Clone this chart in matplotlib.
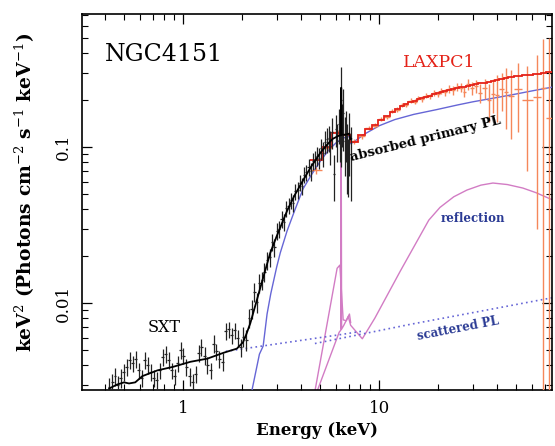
import numpy as np
import matplotlib.pyplot as plt
from matplotlib.ticker import FuncFormatter, NullFormatter

plt.rcParams['font.family'] = ['DejaVu Serif']
plt.rcParams['mathtext.fontset'] = 'dejavuserif'

# ---------------- SXT data (keV, keV^2 ph/cm2/s/keV) ----------------
sxt_e = [0.42, 0.435, 0.45, 0.465, 0.48, 0.50, 0.515, 0.535, 0.555, 0.575,
         0.595, 0.615, 0.64, 0.66, 0.685, 0.71, 0.735, 0.76, 0.79, 0.815,
         0.845, 0.875, 0.905, 0.94, 0.97, 1.0, 1.04, 1.08, 1.12, 1.16,
         1.2, 1.24, 1.29, 1.33, 1.38, 1.43, 1.48, 1.53, 1.59, 1.65,
         1.71, 1.77, 1.83, 1.9, 1.97,
         2.03, 2.10, 2.17, 2.24, 2.31, 2.38, 2.45, 2.52, 2.60, 2.68,
         2.76, 2.84, 2.92, 3.00, 3.09, 3.18, 3.27, 3.36, 3.45, 3.54,
         3.64, 3.74, 3.84, 3.94, 4.04, 4.14, 4.25, 4.36, 4.47, 4.58,
         4.69, 4.80, 4.92, 5.04, 5.16, 5.28, 5.40, 5.52, 5.64, 5.76,
         5.88, 6.00, 6.12, 6.24, 6.33, 6.40, 6.48, 6.57, 6.66, 6.75,
         6.85, 6.95, 7.05, 7.15]
sxt_y = [0.0029, 0.0031, 0.0034, 0.0030, 0.0033, 0.0036, 0.0039, 0.0043, 0.0041, 0.0044,
         0.0037, 0.0033, 0.0043, 0.0040, 0.0036, 0.0033, 0.0032, 0.0037, 0.0045, 0.0047,
         0.0043, 0.0037, 0.0034, 0.0041, 0.0050, 0.0046, 0.0039, 0.0034, 0.0031, 0.0035,
         0.0048, 0.0052, 0.0046, 0.0040, 0.0037, 0.0055, 0.0049, 0.0044, 0.0042, 0.0066,
         0.0068, 0.0062, 0.0067, 0.0060, 0.0052,
         0.0061, 0.0058, 0.0080, 0.0092, 0.0118, 0.0101, 0.0135, 0.0140, 0.0158, 0.0188,
         0.0196, 0.0245, 0.0228, 0.0290, 0.0300, 0.0345, 0.0330, 0.0405, 0.0420, 0.0455,
         0.0440, 0.0520, 0.0530, 0.0590, 0.0560, 0.0665, 0.0690, 0.0745, 0.0700, 0.0810,
         0.0830, 0.0880, 0.0850, 0.0980, 0.0910, 0.1080, 0.1120, 0.1150, 0.1020, 0.1250,
         0.0670, 0.1300, 0.1100, 0.1400, 0.1150, 0.2000, 0.1450, 0.1650, 0.1100, 0.1250,
         0.0950, 0.0800, 0.1150, 0.0900]
sxt_err = [0.0004, 0.0004, 0.00045, 0.0004, 0.00045, 0.00045, 0.0005, 0.00055, 0.0005, 0.00055,
           0.00045, 0.0004, 0.00055, 0.0005, 0.00045, 0.0004, 0.0004, 0.00045, 0.00055, 0.0006,
           0.00055, 0.00045, 0.0004, 0.0005, 0.0006, 0.00055, 0.0005, 0.00045, 0.0004, 0.00045,
           0.0006, 0.00065, 0.0006, 0.0005, 0.00045, 0.0007, 0.0006, 0.00055, 0.00055, 0.0008,
           0.0008, 0.00075, 0.0008, 0.00075, 0.0007,
           0.0009, 0.0009, 0.0011, 0.0013, 0.0016, 0.0015, 0.0019, 0.0019, 0.0022, 0.0025,
           0.0026, 0.0031, 0.0030, 0.0036, 0.0037, 0.0042, 0.0042, 0.0049, 0.0050, 0.0055,
           0.0055, 0.0062, 0.0064, 0.0070, 0.0070, 0.0080, 0.0082, 0.0090, 0.0090, 0.0100,
           0.0110, 0.0120, 0.0130, 0.0150, 0.0160, 0.0180, 0.0200, 0.0220, 0.0250, 0.0280,
           0.0220, 0.0300, 0.0300, 0.0350, 0.0350, 0.1250, 0.0450, 0.0700, 0.0450, 0.0450,
           0.0450, 0.0320, 0.0500, 0.0450]

# SXT total model
sxt_mod_e = [0.42, 0.46, 0.50, 0.53, 0.57, 0.62, 0.74, 0.89, 1.09, 1.33, 1.61, 1.88,
             2.02, 2.1, 2.2, 2.38, 2.55, 2.78, 3.0, 3.39, 3.7, 4.1, 4.5, 5.0, 5.4,
             5.8, 6.2, 6.36, 6.4, 6.44, 6.7, 7.05, 7.12, 7.2]
sxt_mod_y = [0.00283, 0.0030, 0.0031, 0.00305, 0.0031, 0.0034, 0.0037, 0.0039, 0.0042,
             0.0044, 0.0048, 0.0051, 0.0056, 0.0063, 0.0074, 0.0105, 0.0143, 0.0209,
             0.0268, 0.039, 0.049, 0.0615, 0.075, 0.0915, 0.103, 0.113, 0.118, 0.119,
             0.24, 0.12, 0.12, 0.122, 0.112, 0.113]

# ---------------- LAXPC1 data ----------------
lx_edges = [4.45, 5.1, 5.75, 6.55, 7.1, 7.8, 8.5, 9.2, 9.9, 10.6, 11.3, 12.0, 12.7,
            13.4, 14.1, 14.8, 15.5, 16.2, 17.0, 17.8, 18.6, 19.4, 20.3, 21.2, 22.2,
            23.2, 24.3, 25.4, 26.6, 27.8, 29.1, 30.5, 32.0, 33.6, 35.3, 37.1, 39.0,
            41.0, 43.2, 45.6, 48.6, 53.5, 60.5, 66.5, 71.0, 76.0]
lx_model = [0.083, 0.100, 0.123, 0.120, 0.107, 0.119, 0.130, 0.139, 0.149, 0.158,
            0.167, 0.176, 0.183, 0.189, 0.194, 0.198, 0.202, 0.206, 0.210, 0.214,
            0.218, 0.221, 0.224, 0.228, 0.231, 0.235, 0.238, 0.241, 0.244, 0.247,
            0.250, 0.253, 0.256, 0.259, 0.262, 0.266, 0.270, 0.274, 0.277, 0.281,
            0.285, 0.290, 0.295, 0.298, 0.301]
lx_y = [0.071, 0.098, 0.124, 0.122, 0.109, 0.117, 0.133, 0.137, 0.152, 0.156,
        0.171, 0.174, 0.187, 0.186, 0.198, 0.195, 0.206, 0.203, 0.214, 0.211,
        0.223, 0.218, 0.229, 0.224, 0.236, 0.231, 0.244, 0.240, 0.226, 0.252,
        0.238, 0.246, 0.222, 0.238, 0.200, 0.220, 0.217, 0.235, 0.226, 0.212,
        0.234, 0.200, 0.210, 0.240, 0.153]
lx_err = [0.004, 0.004, 0.004, 0.004, 0.004, 0.004, 0.004, 0.005, 0.005, 0.005,
          0.005, 0.006, 0.006, 0.006, 0.007, 0.007, 0.007, 0.008, 0.008, 0.009,
          0.009, 0.010, 0.011, 0.012, 0.013, 0.014, 0.015, 0.016, 0.018, 0.020,
          0.022, 0.025, 0.030, 0.035, 0.055, 0.055, 0.072, 0.065, 0.095, 0.100,
          0.110, 0.130, 0.180, 0.250, 0.350]

# ---------------- model components ----------------
pl_e = [2.25, 2.45, 2.56, 2.68, 2.8, 3.0, 3.13, 3.39, 3.7, 4.09, 4.5, 5.0, 5.5, 6.0,
        6.5, 7.1, 7.15, 7.5, 8.5, 10, 12, 15, 19.7, 25, 30, 40, 50, 60, 76]
pl_y = [0.0028, 0.0047, 0.0053, 0.0085, 0.0115, 0.017, 0.021, 0.029, 0.039, 0.054,
        0.066, 0.081, 0.095, 0.106, 0.114, 0.117, 0.105, 0.109, 0.122, 0.137, 0.150,
        0.162, 0.174, 0.186, 0.195, 0.208, 0.219, 0.229, 0.242]

scat_sxt_e = [1.65, 3.1, 6.5, 8.2]
scat_sxt_y = [0.0049, 0.0055, 0.0063, 0.0066]
scat_lx_e = [4.7, 14.4, 76]
scat_lx_y = [0.0055, 0.0073, 0.0108]

refl_sxt_e = [4.85, 6.25, 6.37, 6.4, 6.43, 6.6, 6.95, 7.05, 7.15]
refl_sxt_y = [0.00277, 0.0065, 0.0067, 0.12, 0.0068, 0.0072, 0.0082, 0.0085, 0.0075]
refl_lx_e = [4.72, 6.1, 6.3, 6.55, 6.8, 6.95, 7.15, 8.2, 9.5, 12.8, 17.9, 20.4, 24,
             28, 33, 38, 45, 54, 63, 76]
refl_lx_y = [0.0028, 0.0167, 0.0175, 0.0078, 0.0077, 0.0082, 0.0072, 0.0059, 0.0080,
             0.016, 0.034, 0.041, 0.048, 0.053, 0.057, 0.0588, 0.0575, 0.0546, 0.051,
             0.046]


def half_widths(e):
    # bin half widths from the neighbouring channel energies
    e = np.asarray(e)
    mid = np.sqrt(e[:-1] * e[1:])
    lo = np.concatenate([[e[0] ** 2 / mid[0]], mid])
    hi = np.concatenate([mid, [e[-1] ** 2 / mid[-1]]])
    return [e - lo, hi - e]


fig = plt.figure(figsize=(5.55, 4.46), dpi=100)
ax = fig.add_axes([0.1477, 0.1256, 0.8468, 0.843])

blue = '#6666d6'
pink = '#d27cc4'
orange = '#f5875a'
red = '#e42218'
textblue = '#2a3a94'

ax.plot(refl_lx_e, refl_lx_y, color=pink, lw=1.0, zorder=2)
ax.plot(refl_sxt_e, refl_sxt_y, color=pink, lw=1.0, zorder=2)
ax.plot(scat_sxt_e, scat_sxt_y, color=blue, lw=1.2, ls=(0, (1, 2)), zorder=2)
ax.plot(scat_lx_e, scat_lx_y, color=blue, lw=1.2, ls=(0, (1, 2)), zorder=2)
ax.plot(pl_e, pl_y, color=blue, lw=1.0, zorder=3)

# LAXPC1 data + model
lx_edges_a = np.array(lx_edges)
lx_c = np.sqrt(lx_edges_a[:-1] * lx_edges_a[1:])
ax.errorbar(lx_c, lx_y, yerr=lx_err,
            xerr=[lx_c - lx_edges_a[:-1], lx_edges_a[1:] - lx_c],
            fmt='none', ecolor=orange, elinewidth=1.0, capsize=0, zorder=4)
ax.stairs(lx_model, lx_edges, baseline=None, color=red, lw=1.3, zorder=5)

# SXT data + model
ax.errorbar(sxt_e, sxt_y, yerr=sxt_err, xerr=half_widths(sxt_e),
            fmt='none', ecolor='#222222', elinewidth=0.9, capsize=0, zorder=6)
ax.plot(sxt_mod_e, sxt_mod_y, color='black', lw=1.3, zorder=7)

ax.set_xscale('log')
ax.set_yscale('log')
ax.set_xlim(0.305, 76)
ax.set_ylim(0.00277, 0.713)

fmt = FuncFormatter(lambda v, p: '%g' % v)
ax.xaxis.set_major_formatter(fmt)
ax.yaxis.set_major_formatter(fmt)
ax.xaxis.set_minor_formatter(NullFormatter())
ax.yaxis.set_minor_formatter(NullFormatter())

ax.tick_params(which='both', direction='in', top=True, right=True)
ax.tick_params(which='major', length=7.5, width=0.9)
ax.tick_params(which='minor', length=4, width=0.8)
ax.tick_params(axis='x', pad=7, labelsize=12)
ax.tick_params(axis='y', pad=7, labelsize=12, labelrotation=90)
for lab in ax.get_yticklabels():
    lab.set_verticalalignment('center')
for s in ax.spines.values():
    s.set_linewidth(1.2)

ax.set_xlabel('Energy (keV)', fontsize=12, fontweight='bold', labelpad=4)
ax.set_ylabel(r'keV$^2$ (Photons cm$^{-2}$ s$^{-1}$ keV$^{-1}$)', fontsize=13.5,
              fontweight='bold')
ax.yaxis.set_label_coords(-0.096, 0.527)

# annotations
ax.text(0.049, 0.891, 'NGC4151', transform=ax.transAxes, fontsize=17,
        ha='left', va='center')
ax.text(0.683, 0.87, 'LAXPC1', transform=ax.transAxes, fontsize=12.5,
        color=red, ha='left', va='center')
ax.text(0.174, 0.165, 'SXT', transform=ax.transAxes, fontsize=11.5,
        ha='center', va='center')
ax.text(0.730, 0.668, 'absorbed primary PL', transform=ax.transAxes, fontsize=9.5,
        fontweight='bold', rotation=14, rotation_mode='anchor',
        ha='center', va='center', zorder=10)
ax.text(0.832, 0.455, 'reflection', transform=ax.transAxes, fontsize=8.5,
        fontweight='bold', color=textblue, ha='center', va='center')
ax.text(0.80, 0.162, 'scattered PL', transform=ax.transAxes, fontsize=8.5,
        fontweight='bold', color=textblue, rotation=11, rotation_mode='anchor',
        ha='center', va='center')

plt.savefig('out.png', dpi=100)
